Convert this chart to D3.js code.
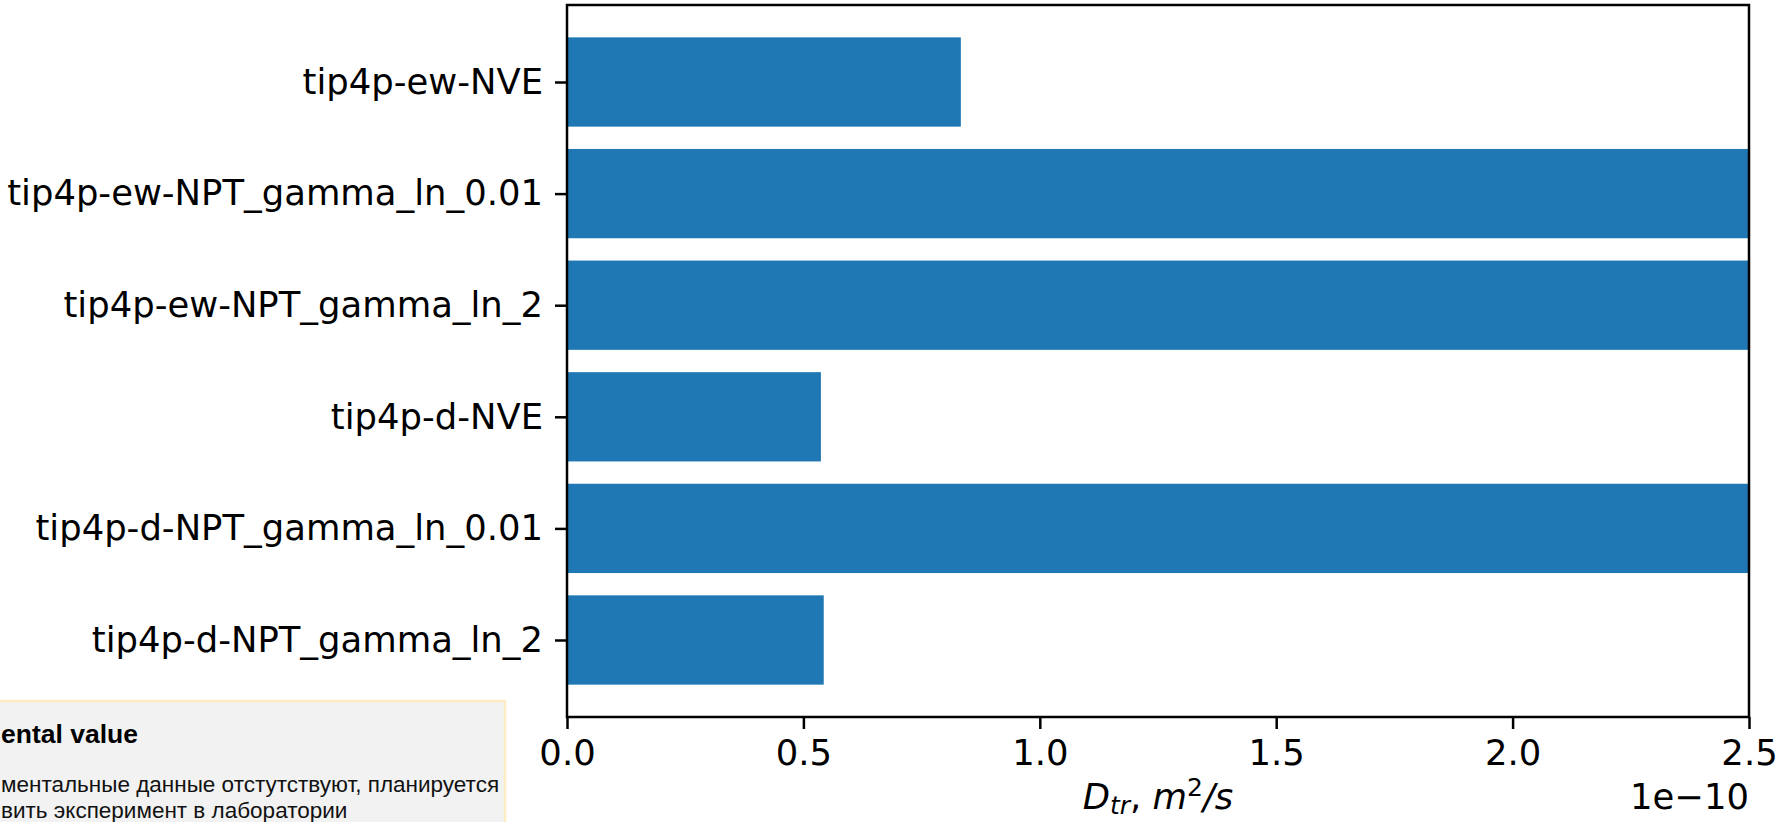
<!DOCTYPE html>
<html lang="en">
<head>
    <meta charset="UTF-8">
    <title>D_tr</title>
    <script src="https://d3js.org/d3.v7.min.js"></script>
    <style>
        body { margin: 0; background: #fff; overflow: hidden; }
        svg { display: block; }
    </style>
</head>
<body>
<svg id="chart"></svg>
<script>

    const width = 1777;
    const height = 822;

    // bottom -> top, same order as matplotlib barh
    const categories = [
        "tip4p-d-NPT_gamma_ln_2",
        "tip4p-d-NPT_gamma_ln_0.01",
        "tip4p-d-NVE",
        "tip4p-ew-NPT_gamma_ln_2",
        "tip4p-ew-NPT_gamma_ln_0.01",
        "tip4p-ew-NVE"
    ];
    // D_tr in units of 1e-10 m^2/s (three bars run past the axis limit)
    const values = [0.543, 3.2, 0.537, 3.2, 3.2, 0.833];
    const xTicks = [0.0, 0.5, 1.0, 1.5, 2.0, 2.5];
    const xMax = 2.5;

    const noteTitle = "ental value";
    const noteLines = [
        "ментальные данные отстутствуют, планируется",
        "вить эксперимент в лаборатории"
    ];

    let margin = {left: 567, right: 28, top: 5, bottom: 105};
    let svg = d3.select('#chart').attr('width', width).attr('height', height);

    let x = d3.scaleLinear()
        .domain([0, xMax])
        .range([margin.left, width - margin.right]);

    let n = categories.length;
    let pad = (n - 1 + 0.8) * 0.05;
    let y = d3.scaleLinear()
        .domain([-0.4 - pad, n - 1 + 0.4 + pad])
        .range([height - margin.bottom, margin.top]);

    svg.append('defs').append('clipPath').attr('id', 'plotClip')
        .append('rect')
        .attr('x', x(0)).attr('y', y.range()[1])
        .attr('width', x(xMax) - x(0))
        .attr('height', y.range()[0] - y.range()[1]);

    let barH = y(0) - y(0.8);
    svg.append('g').attr('clip-path', 'url(#plotClip)')
        .selectAll('rect')
        .data(values)
        .join('rect')
        .attr('x', x(0))
        .attr('y', (d, i) => y(i + 0.4))
        .attr('width', d => x(d) - x(0))
        .attr('height', barH)
        .attr('fill', '#1f77b4');

    const tickFont = 'DejaVu Sans, sans-serif';
    const fs = '35.4px';

    let xAxis = svg.append('g')
        .attr('transform', `translate(0,${y.range()[0]})`)
        .call(d3.axisBottom(x).tickValues(xTicks).tickFormat(d3.format('.1f'))
            .tickSize(12).tickPadding(11).tickSizeOuter(0));

    let yAxis = svg.append('g')
        .attr('transform', `translate(${x(0)},0)`)
        .call(d3.axisLeft(y).tickValues(d3.range(n)).tickFormat(i => categories[i])
            .tickSize(12).tickPadding(12).tickSizeOuter(0));

    [xAxis, yAxis].forEach(ax => {
        ax.select('.domain').remove();
        ax.selectAll('line').attr('stroke', '#000').attr('stroke-width', 2.5);
        ax.selectAll('text')
            .attr('fill', '#000')
            .style('font-family', tickFont)
            .style('font-size', fs);
    });

    // frame
    svg.append('rect')
        .attr('x', x(0)).attr('y', y.range()[1])
        .attr('width', x(xMax) - x(0))
        .attr('height', y.range()[0] - y.range()[1])
        .attr('fill', 'none')
        .attr('stroke', '#000')
        .attr('stroke-width', 2.5);

    // x label  D_tr, m^2/s
    let xl = svg.append('text')
        .attr('x', (x(0) + x(xMax)) / 2)
        .attr('y', 809)
        .attr('text-anchor', 'middle')
        .style('font-family', tickFont)
        .style('font-size', fs)
        .style('font-style', 'italic');
    xl.append('tspan').text('D');
    xl.append('tspan').attr('dy', 5).style('font-size', '25px').text('tr');
    xl.append('tspan').attr('dy', -5).style('font-style', 'normal').text(', ');
    xl.append('tspan').text('m');
    xl.append('tspan').attr('dy', -13).style('font-size', '25px').style('font-style', 'normal').text('2');
    xl.append('tspan').attr('dy', 13).text('/s');

    // offset text
    svg.append('text')
        .attr('x', x(xMax))
        .attr('y', 809)
        .attr('text-anchor', 'end')
        .style('font-family', tickFont)
        .style('font-size', fs)
        .text('1e\u221210');

    // note box, cut off by the window edge
    let note = svg.append('g');
    note.append('rect')
        .attr('x', -10).attr('y', 701)
        .attr('width', 515).attr('height', 140)
        .attr('fill', '#f2f2f2')
        .attr('stroke', '#fdecc4')
        .attr('stroke-width', 2.5);
    note.append('text')
        .attr('x', 1).attr('y', 743)
        .style('font-family', 'Liberation Sans, Arial, sans-serif')
        .style('font-size', '26.5px')
        .style('font-weight', 'bold')
        .text(noteTitle);
    note.selectAll('text.line')
        .data(noteLines)
        .join('text')
        .attr('class', 'line')
        .attr('x', 1)
        .attr('y', (d, i) => 792 + i * 26)
        .style('font-family', 'Liberation Sans, Arial, sans-serif')
        .style('font-size', '22.5px')
        .attr('fill', '#111')
        .text(d => d);

</script>
</body>
</html>
